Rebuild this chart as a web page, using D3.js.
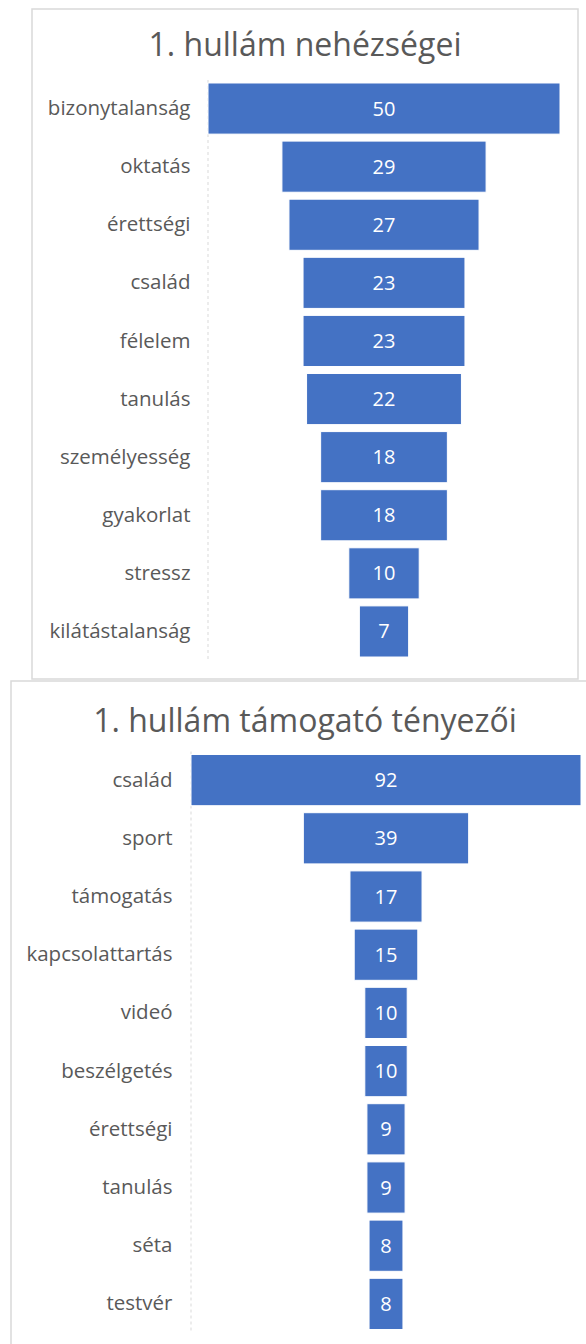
<!DOCTYPE html>
<html>
<head>
<meta charset="utf-8">
<script src="https://cdn.jsdelivr.net/npm/d3@7"></script>
<style>
  html, body { margin: 0; padding: 0; background: #fff; }
  svg { display: block; font-family: "Open Sans", "Noto Sans", sans-serif; }
</style>
</head>
<body>
<svg id="chart" width="586" height="1344"></svg>
<script>
// 1. hullám nehézségei
const hardCats = ["bizonytalanság", "oktatás", "érettségi", "család", "félelem",
    "tanulás", "személyesség", "gyakorlat", "stressz", "kilátástalanság"];
const hardValues = [50, 29, 27, 23, 23, 22, 18, 18, 10, 7];

// 1. hullám támogató tényezői
const supportCats = ["család", "sport", "támogatás", "kapcsolattartás", "videó",
    "beszélgetés", "érettségi", "tanulás", "séta", "testvér"];
const supportValues = [92, 39, 17, 15, 10, 10, 9, 9, 8, 8];

const svg = d3.select("#chart");

// egy tölcsér diagram kirajzolása
function drawFunnel (cfg) {
    const g = svg.append("g");
    // keret
    g.append("rect")
        .attr("x", cfg.box[0]).attr("y", cfg.box[1])
        .attr("width", cfg.box[2]).attr("height", cfg.box[3])
        .attr("fill", "#fff")
        .attr("stroke", "#d9d9d9")
        .attr("stroke-width", 1.5);
    // cím
    g.append("text")
        .attr("x", cfg.box[0] + cfg.box[2] / 2)
        .attr("y", cfg.titleY)
        .attr("text-anchor", "middle")
        .attr("fill", "#595959")
        .style("font-size", "32px")
        .text(cfg.title);

    const y = d3.scaleBand()
        .domain(cfg.cats)
        .range(cfg.yRange)
        .paddingInner(0.12)
        .paddingOuter(0.06);
    const w = d3.scaleLinear()
        .domain([0, d3.max(cfg.values)])
        .range([0, cfg.maxWidth]);
    const data = cfg.cats.map((c, i) => ({cat: c, value: cfg.values[i]}));

    // tengely
    const axis = g.append("g")
        .attr("transform", `translate(${cfg.axisX},0)`)
        .call(d3.axisLeft(y).tickSize(0).tickPadding(cfg.pad));
    axis.select(".domain")
        .attr("stroke", "#d9d9d9")
        .attr("stroke-dasharray", "3,3");
    axis.selectAll("text")
        .attr("fill", "#595959")
        .style("font-size", "20.5px")
        .style("font-family", "'Open Sans', 'Noto Sans', sans-serif");

    const bars = g.selectAll(".bar")
        .data(data)
        .enter()
        .append("g");
    bars.append("rect")
        .attr("x", (d) => cfg.cx - w(d.value) / 2)
        .attr("y", (d) => y(d.cat))
        .attr("width", (d) => w(d.value))
        .attr("height", y.bandwidth())
        .attr("fill", "#4472c4")
        .attr("stroke", "#fff")
        .attr("stroke-width", 1);
    bars.append("text")
        .attr("x", cfg.cx)
        .attr("y", (d) => y(d.cat) + y.bandwidth() / 2)
        .attr("dy", "0.35em")
        .attr("text-anchor", "middle")
        .attr("fill", "#fff")
        .style("font-size", "20px")
        .text((d) => d.value);
}

drawFunnel({
    title: "1. hullám nehézségei",
    cats: hardCats, values: hardValues,
    box: [32, 9, 546, 670],
    titleY: 56,
    yRange: [79.5, 660.5],
    axisX: 207.5, pad: 17,
    cx: 384, maxWidth: 352
});

drawFunnel({
    title: "1. hullám támogató tényezői",
    cats: supportCats, values: supportValues,
    box: [11, 681, 588, 700],
    titleY: 732,
    yRange: [751, 1333],
    axisX: 190.5, pad: 18,
    cx: 386, maxWidth: 390
});
</script>
</body>
</html>
